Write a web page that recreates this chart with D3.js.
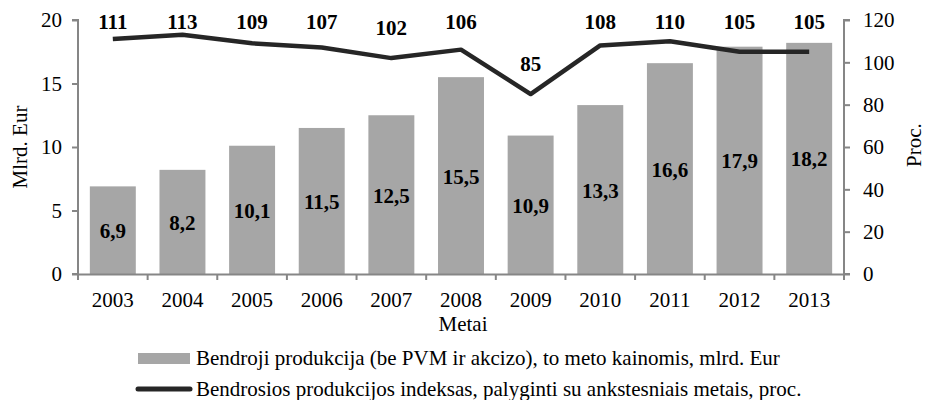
<!DOCTYPE html>
<html>
<head>
<meta charset="utf-8">
<script src="https://cdn.jsdelivr.net/npm/d3@7"></script>
<style>
  body { margin: 0; background: #fff; }
  text { font-family: "Liberation Serif", "Times New Roman", serif; }
</style>
</head>
<body>
<div class="chart"></div>
<script>
var years = ["2003","2004","2005","2006","2007","2008","2009","2010","2011","2012","2013"];
var production = [6.9, 8.2, 10.1, 11.5, 12.5, 15.5, 10.9, 13.3, 16.6, 17.9, 18.2];
var indexValues = [111, 113, 109, 107, 102, 106, 85, 108, 110, 105, 105];
var leftTicks = [0, 5, 10, 15, 20];
var rightTicks = [0, 20, 40, 60, 80, 100, 120];
var legendLabels = ["Bendroji produkcija (be PVM ir akcizo), to meto kainomis, mlrd. Eur",
                    "Bendrosios produkcijos indeksas, palyginti su ankstesniais metais, proc."];

var W = 926, H = 400;
var margin = { top: 20, right: 82, bottom: 126, left: 78 };
var width = W - margin.left - margin.right,
    height = H - margin.top - margin.bottom;

var svg = d3.select(".chart")
    .append("svg")
    .attr("width", W)
    .attr("height", H)
    .append("g")
    .attr("transform", "translate(" + margin.left + "," + margin.top + ")");

var x = d3.scaleBand().domain(years).range([0, width]).paddingInner(0.34).paddingOuter(0.17);
var yL = d3.scaleLinear().domain([0, 20]).range([height, 0]);
var yR = d3.scaleLinear().domain([0, 120]).range([height, 0]);

var axisColor = "#868686";
var fontSize = "21px";

// bars
svg.selectAll(".bar")
  .data(production)
  .enter()
  .append("rect")
  .attr("class", "bar")
  .attr("x", function(d, i) { return x(years[i]); })
  .attr("y", function(d) { return yL(d); })
  .attr("width", x.bandwidth())
  .attr("height", function(d) { return height - yL(d); })
  .style("fill", "#a6a6a6");

svg.selectAll(".barLabel")
  .data(production)
  .enter()
  .append("text")
  .attr("class", "barLabel")
  .attr("x", function(d, i) { return x(years[i]) + x.bandwidth() / 2; })
  .attr("y", function(d) { return (yL(d) + height) / 2 + 8; })
  .attr("text-anchor", "middle")
  .attr("font-size", fontSize)
  .attr("font-weight", "bold")
  .attr("fill", "#000")
  .text(function(d) { return String(d).replace(".", ","); });

// axes
var xAxis = svg.append("g")
  .attr("transform", "translate(0," + height + ")")
  .call(d3.axisBottom(x).tickSize(0).tickPadding(18));
xAxis.select(".domain").attr("stroke", axisColor).attr("stroke-width", 2);
xAxis.selectAll("text").attr("font-size", fontSize).attr("fill", "#000");
// category separator ticks
svg.append("g").selectAll("line")
  .data(d3.range(years.length + 1))
  .enter()
  .append("line")
  .attr("x1", function(i) { return i * width / years.length; })
  .attr("x2", function(i) { return i * width / years.length; })
  .attr("y1", height)
  .attr("y2", height + 6)
  .attr("stroke", axisColor)
  .attr("stroke-width", 2);

var left = svg.append("g")
  .call(d3.axisLeft(yL).tickValues(leftTicks).tickSize(6).tickPadding(10));
left.select(".domain").attr("stroke", axisColor).attr("stroke-width", 2).attr("d", "M-6,0H0V" + height + "H-6");
left.selectAll("line").attr("stroke", axisColor).attr("stroke-width", 2);
left.selectAll("text").attr("font-size", fontSize).attr("fill", "#000");

var right = svg.append("g")
  .attr("transform", "translate(" + width + ",0)")
  .call(d3.axisRight(yR).tickValues(rightTicks).tickSize(6).tickPadding(13));
right.select(".domain").attr("stroke", axisColor).attr("stroke-width", 2).attr("d", "M6,0H0V" + height + "H6");
right.selectAll("line").attr("stroke", axisColor).attr("stroke-width", 2);
right.selectAll("text").attr("font-size", fontSize).attr("fill", "#000");

// line
var line = d3.line()
  .x(function(d, i) { return x(years[i]) + x.bandwidth() / 2; })
  .y(function(d) { return yR(d); });

svg.append("path")
  .datum(indexValues)
  .attr("d", line)
  .attr("fill", "none")
  .attr("stroke", "#262626")
  .attr("stroke-width", 4.5)
  .attr("stroke-linejoin", "round");

svg.selectAll(".lineLabel")
  .data(indexValues)
  .enter()
  .append("text")
  .attr("class", "lineLabel")
  .attr("x", function(d, i) { return x(years[i]) + x.bandwidth() / 2; })
  .attr("y", function(d) { return Math.max(yR(d) - 23, 9); })
  .attr("text-anchor", "middle")
  .attr("font-size", fontSize)
  .attr("font-weight", "bold")
  .attr("fill", "#000")
  .text(function(d) { return d; });

// axis titles
svg.append("text")
  .attr("transform", "translate(" + (-51) + "," + (height / 2) + ") rotate(-90)")
  .attr("text-anchor", "middle")
  .attr("font-size", fontSize)
  .text("Mlrd. Eur");

svg.append("text")
  .attr("transform", "translate(" + (width + 77) + "," + (height / 2 - 2) + ") rotate(-90)")
  .attr("text-anchor", "middle")
  .attr("font-size", fontSize)
  .text("Proc.");

svg.append("text")
  .attr("x", width / 2 + 2)
  .attr("y", height + 57)
  .attr("text-anchor", "middle")
  .attr("font-size", fontSize)
  .text("Metai");

// legend
var legend = svg.append("g").attr("transform", "translate(" + (138 - margin.left) + "," + (359 - margin.top) + ")");
legend.append("rect")
  .attr("x", 0).attr("y", -6).attr("width", 52).attr("height", 11)
  .style("fill", "#a6a6a6");
legend.append("text")
  .attr("x", 58).attr("y", 6)
  .attr("font-size", fontSize)
  .text(legendLabels[0]);
legend.append("line")
  .attr("x1", 0).attr("x2", 52).attr("y1", 30).attr("y2", 30)
  .attr("stroke", "#262626").attr("stroke-width", 5).attr("stroke-linecap", "round");
legend.append("text")
  .attr("x", 58).attr("y", 37)
  .attr("font-size", fontSize)
  .text(legendLabels[1]);
</script>
</body>
</html>
